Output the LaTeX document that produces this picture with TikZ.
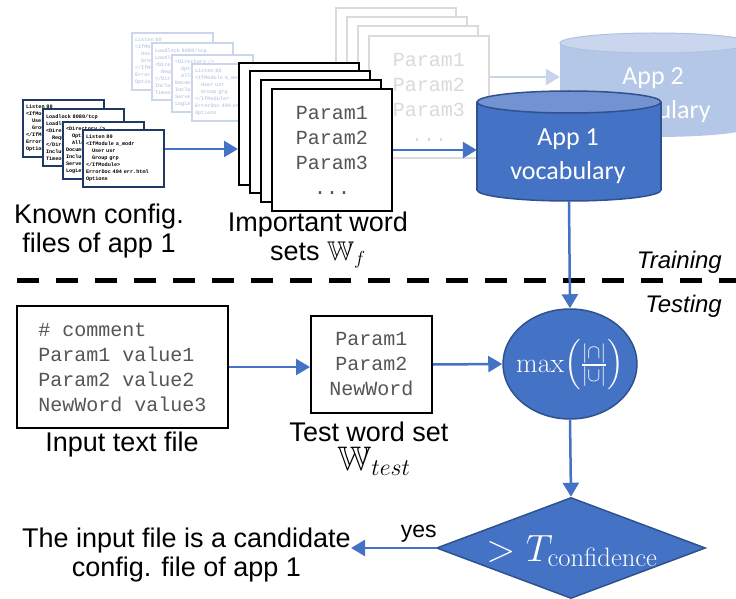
\RequirePackage{fix-cm}
\documentclass[tikz,border=0pt]{standalone}
\usepackage{amsmath,amssymb}
\usepackage[no-math]{fontspec}
\setmainfont{Liberation Sans}
\setmonofont{Liberation Mono}
\newfontfamily\calibri{Carlito}
\usetikzlibrary{shapes.geometric,arrows.meta,calc}

\definecolor{accent}{HTML}{4472C4}
\definecolor{accentdark}{HTML}{2F528F}
\definecolor{accentlight}{HTML}{7292D2}
\definecolor{navy}{HTML}{1F3864}
\definecolor{paleblue}{HTML}{CAD6EE}
\definecolor{paletext}{HTML}{C2CEE6}
\definecolor{palegray}{HTML}{DADADA}
\definecolor{monogray}{HTML}{555555}
\definecolor{ghostbody}{HTML}{B4C7E7}
\definecolor{ghosttop}{HTML}{C9D6EE}
\definecolor{ghostedge}{HTML}{AEC2E4}
\definecolor{ghostarrow}{HTML}{C7D4EC}

\tikzset{
  cfgfile/.style={draw=navy, line width=2pt, fill=white, anchor=north west,
    minimum width=81pt, minimum height=57pt, inner sep=2pt, text width=75pt,
    align=left, font=\fontsize{5.2}{7}\selectfont\ttfamily\bfseries},
  ghostfile/.style={cfgfile, draw=paleblue, text=paletext},
  wordset/.style={draw=black, line width=2pt, fill=white, anchor=north west,
    minimum width=120pt, minimum height=122pt, inner sep=0pt, align=center,
    font=\fontsize{20}{25}\selectfont\ttfamily, text=monogray},
  ghostset/.style={wordset, draw=palegray, text=palegray},
  textbox/.style={draw=black, line width=2pt, fill=white, inner sep=0pt,
    font=\fontsize{20}{25}\selectfont\ttfamily, text=monogray},
  flow/.style={-{Triangle[length=14pt,width=16pt]}, line width=2.5pt, draw=accent},
  ghostflow/.style={flow, draw=ghostarrow},
  caption/.style={font=\fontsize{27}{28.5}\selectfont, align=center, inner sep=0pt},
  phase/.style={font=\fontsize{24}{28}\selectfont\itshape, anchor=east, inner sep=0pt},
  vocab/.style={font=\fontsize{26}{34}\selectfont\calibri, text=white, align=center, inner sep=0pt},
  decision/.style={fill=accent, draw=accentdark, line width=1.5pt, inner sep=0pt},
  hull/.style={minimum width=#1, inner sep=0pt}
}

\begin{document}
\begin{tikzpicture}[x=1pt, y=-1pt]
\useasboundingbox (0,0) rectangle (736,599);
\clip (0,0) rectangle (736,599);

% ---- faded stack of config files of another app
\node[ghostfile] (c1) at (131,32) {Listen 80\\<IfModule a\_modr\\\hspace*{6pt}User usr\\\hspace*{6pt}Group grp\\</IfModule>\\ErrorDoc 404 err.html\\Options};
\node[ghostfile] (c2) at (151,42) {Loadlock 8080/tcp\\Loadlock 8080/udp\\<Directory /var>\\\hspace*{6pt}Require all\\</Directory>\\Include conf.d\\Timeout 300};
\node[ghostfile] (c3) at (171,54) {<Directory />\\\hspace*{6pt}Options\\\hspace*{6pt}AllowOverride\\DocumentRoot /www\\Include mods\\ServerAdmin root\\LogLevel warn};
\node[ghostfile] (c4) at (191,63) {Listen 80\\<IfModule a\_modr\\\hspace*{6pt}User usr\\\hspace*{6pt}Group grp\\</IfModule>\\ErrorDoc 404 err.html\\Options};

% ---- faded word sets of another app
\node[ghostset] (g1) at (335,7) {};
\node[ghostset] (g2) at (346,16) {};
\node[ghostset] (g3) at (357,25) {};
\node[ghostset] (g4) at (368,35) {Param1\\Param2\\Param3\\...};

% ---- faded vocabulary of app 2
\fill[ghostbody] (560,43) rectangle (750,127);
\fill[ghostbody] (655,127) ellipse [x radius=95, y radius=10];
\fill[ghosttop] (655,43) ellipse [x radius=95, y radius=10];
\draw[ghostedge, line width=1pt] (655,43) ellipse [x radius=95, y radius=10];
\node[hull=190pt, minimum height=104pt] (app2) at (655,85) {};
\node[vocab] (app2text) at (653,95) {App 2\\vocabulary};

\draw[ghostflow] ($(g4.east)+(0,-20)$) -- ($(g4.east -| app2.west)+(0,-20)$);

% ---- known config files of app 1
\node[cfgfile] (k1) at (22,99) {Listen 80\\<IfModule a\_modr\\\hspace*{6pt}User usr\\\hspace*{6pt}Group grp\\</IfModule>\\ErrorDoc 404 err.html\\Options};
\node[cfgfile] (k2) at (42,108) {Loadlock 8080/tcp\\Loadlock 8080/udp\\<Directory /var>\\\hspace*{6pt}Require all\\</Directory>\\Include conf.d\\Timeout 300};
\node[cfgfile] (k3) at (62,121) {<Directory />\\\hspace*{6pt}Options\\\hspace*{6pt}AllowOverride\\DocumentRoot /www\\Include mods\\ServerAdmin root\\LogLevel warn};
\node[cfgfile] (k4) at (82,129) {Listen 80\\<IfModule a\_modr\\\hspace*{6pt}User usr\\\hspace*{6pt}Group grp\\</IfModule>\\ErrorDoc 404 err.html\\Options};

% ---- important word sets
\node[wordset] (w1) at (238,62) {};
\node[wordset] (w2) at (249,70) {};
\node[wordset] (w3) at (260,79) {};
\node[wordset] (w4) at (271,88) {Param1\\Param2\\Param3\\...};

% ---- vocabulary of app 1
\fill[accent] (477,102) rectangle (661,190);
\fill[accent] (569,190) ellipse [x radius=92, y radius=11];
\draw[accentdark, line width=1.5pt] (477,102) -- (477,190) (661,102) -- (661,190);
\begin{scope}
  \clip (470,190) rectangle (670,206);
  \draw[accentdark, line width=1.5pt] (569,190) ellipse [x radius=92, y radius=11];
\end{scope}
\filldraw[fill=accentlight, draw=accentdark, line width=1.5pt] (569,102) ellipse [x radius=92, y radius=11];
\node[hull=184pt, minimum height=109pt] (app1) at (569,146.5) {};
\node[vocab] (app1text) at (568,156) {App 1\\vocabulary};

% ---- captions of the training stage
\node[caption] (knowncap) at (99,231) {Known config.\\files of app 1};
\node[caption] (wordcap) at (318,240) {Important word\\sets $\mathbb{W}_f$};

% ---- separation of the two stages
\draw[line width=5pt, dash pattern=on 22pt off 17pt] (17,280) coordinate (sepL) -- (740,280) coordinate (sepR);
\node[phase] (train) at (722,262) {Training};
\node[phase] (test) at (722,306) {Testing};

% ---- testing stage
\node[textbox, minimum width=211pt, minimum height=122pt, align=left] (input) at (122.5,367)
  {\# comment\\Param1 value1\\Param2 value2\\NewWord value3};
\node[caption] (inputcap) at (122,445) {Input text file};

\node[textbox, minimum width=121pt, minimum height=97pt, align=center] (testset) at (371.5,364.5)
  {Param1\\Param2\\NewWord};
\node[caption] (testcap) at (369,432) {Test word set};
\node[caption, font=\fontsize{34}{40}\selectfont] (testsym) at (374,461) {$\mathbb{W}_{test}$};

\node[ellipse, decision, minimum width=134pt, minimum height=110pt] (score) at (570,364) {};
\node[text=white, inner sep=0pt, font=\fontsize{28}{32}\selectfont] (scoretext) at (570,365)
  {$\max\!\left(\frac{|\cap|}{|\cup|}\right)$};

\node[diamond, decision, minimum width=269pt, minimum height=101pt] (decide) at (571,548) {};
\node[text=white, inner sep=0pt, font=\fontsize{38}{44}\selectfont] (decidetext) at (572,551)
  {$>T_{\mathrm{confidence}}$};

\node[caption, anchor=east] (result) at (351,555) {The input file is a candidate\\config. file of app 1};

% ---- connectors
\draw[flow] ($(k4.east)+(0,-9.5)$) -- ($(k4.east -| w1.west)+(0,-9.5)$);
\draw[flow] (w4.east) -- (w4.east -| app1.west);
\draw[flow] (app1.south) -- (score.north);
\draw[flow] (input.east) -- (input.east -| testset.west);
\draw[flow] (testset.east) -- (score.west);
\draw[flow] (score.south) -- (decide.north);
\draw[flow] (decide.west) -- node[above=1pt, font=\fontsize{23}{26}\selectfont, pos=0.2] (yes) {yes} (decide.west -| result.east);
\end{tikzpicture}
\end{document}
